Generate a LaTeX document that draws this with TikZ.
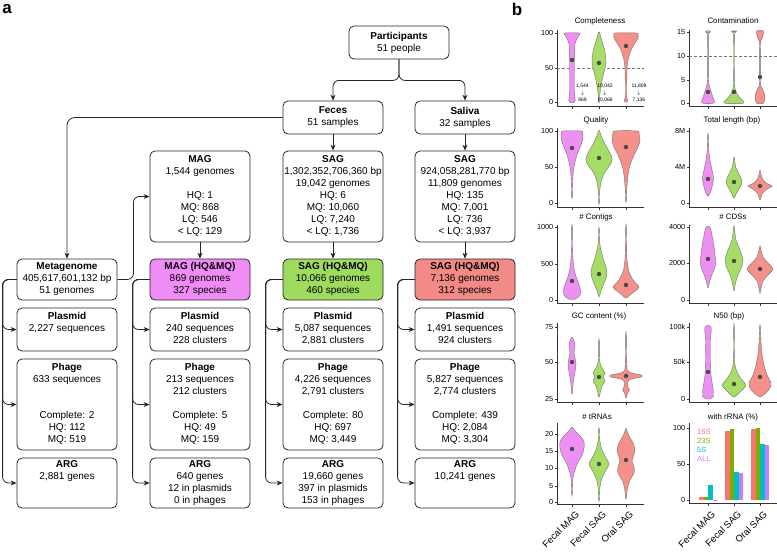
\documentclass[tikz,border=0pt]{standalone}
\usepackage{fontspec}
\setmainfont{Liberation Sans}
\usetikzlibrary{arrows.meta}
\definecolor{cmag}{HTML}{F08CF5}
\definecolor{cgrn}{HTML}{9EDB5E}
\definecolor{cred}{HTML}{F28A86}
\definecolor{vmag}{HTML}{EE90F2}
\definecolor{vgrn}{HTML}{A6DC68}
\definecolor{vred}{HTML}{F5908B}
\definecolor{cS}{HTML}{F8766D}
\definecolor{cT}{HTML}{7CAE00}
\definecolor{cF}{HTML}{00BFC4}
\definecolor{cA}{HTML}{C77CFF}
\definecolor{dotc}{HTML}{4A4A4A}
\tikzset{
  box/.style={draw=black!85, line width=0.8pt, rounded corners=5pt, minimum width=100pt, inner sep=0pt, align=center, font=\fontsize{10}{12}\selectfont},
  conn/.style={draw=black!85, line width=0.8pt, rounded corners=6pt, -{Stealth[length=6pt,width=5pt]}},
  axisline/.style={draw=black!80, line width=0.6pt},
  ticklab/.style={anchor=east, font=\fontsize{7.3}{8}\selectfont, inner sep=0.5pt},
  ptitle/.style={font=\fontsize{7.9}{9}\selectfont, inner sep=0pt},
  xlab/.style={rotate=45, anchor=north east, font=\fontsize{9.5}{10}\selectfont, inner sep=0pt},
  ann/.style={align=center, font=\fontsize{5}{7}\selectfont, inner sep=0pt},
  leg/.style={anchor=west, font=\fontsize{7.5}{8}\selectfont, inner sep=0pt},
  vshape/.style={draw=black!55, line width=0.4pt},
  refdash/.style={draw=black!55, line width=0.5pt, dash pattern=on 3pt off 2pt},
  panellab/.style={font=\fontsize{17}{18}\selectfont\bfseries, inner sep=0pt}
}
\newcommand\violin[4]{%
  \gdef\vR{}\gdef\vL{}%
  \foreach \yy/\ww in {#3}{%
    \pgfmathsetmacro\xl{#1-\ww}%
    \pgfmathsetmacro\xr{#1+\ww}%
    \xdef\vR{\vR(\xr,\yy)}%
    \xdef\vL{(\xl,\yy)\vL}%
  }%
  \edef\vtmp{\noexpand\draw[vshape,fill=#2] plot[smooth cycle,tension=0.55] coordinates {\vR\vL};}%
  \vtmp
  \fill[dotc] (#1,#4) circle (2.2);
}
\newcommand\plotaxes[6]{%
  \draw[axisline] (#1,#2) -- (#1,#3) -- ++(#4,0);
  \foreach \ty/\tl in {#6}{\draw[axisline] (#1,\ty) -- ++(-2.5,0); \node[ticklab] (tk-#1-\ty) at (#1-3,\ty) {\tl};}
  \foreach \tx in {#5}{\draw[axisline] (\tx,#3) -- ++(0,2.5);}
}
\begin{document}
\begin{tikzpicture}[x=1pt,y=-1pt]
\useasboundingbox (0,0) rectangle (777,554);
\node[panellab] (la) at (7,9) {a};
\node[panellab] (lb) at (517,9) {b};

% ---------- panel a ----------
\node[box, minimum height=33pt] (part) at (399,42.5) {\textbf{Participants}\\51 people};
\node[box, minimum height=33pt] (feces) at (333,117.5) {\textbf{Feces}\\51 samples};
\node[box, minimum height=33pt] (saliva) at (465,117.5) {\textbf{Saliva}\\32 samples};

\node[box, minimum height=91pt] (c2q) at (200,196.5) {\strut\textbf{MAG}\\1,544 genomes\\~\\HQ: 1\\MQ: 868\\LQ: 546\\< LQ: 129\strut};
\node[box, minimum height=91pt] (c3q) at (333,196.5) {\strut\textbf{SAG}\\1,302,352,706,360 bp\\19,042 genomes\\HQ: 6\\MQ: 10,060\\LQ: 7,240\\< LQ: 1,736\strut};
\node[box, minimum height=91pt] (c4q) at (465,196.5) {\strut\textbf{SAG}\\924,058,281,770 bp\\11,809 genomes\\HQ: 135\\MQ: 7,001\\LQ: 736\\< LQ: 3,937\strut};

\node[box, minimum height=41pt] (c1hq) at (67,279.5) {\strut\textbf{Metagenome}\\405,617,601,132 bp\\51 genomes\strut};
\node[box, minimum height=41pt, fill=cmag] (c2hq) at (200,279.5) {\strut\textbf{MAG (HQ\&MQ)}\\869 genomes\\327 species\strut};
\node[box, minimum height=41pt, fill=cgrn] (c3hq) at (333,279.5) {\strut\textbf{SAG (HQ\&MQ)}\\10,066 genomes\\460 species\strut};
\node[box, minimum height=41pt, fill=cred] (c4hq) at (465,279.5) {\strut\textbf{SAG (HQ\&MQ)}\\7,136 genomes\\312 species\strut};

\node[box, minimum height=43pt] (c1p) at (67,329.5) {\strut\textbf{Plasmid}\\2,227 sequences\\~\strut};
\node[box, minimum height=43pt] (c2p) at (200,329.5) {\strut\textbf{Plasmid}\\240 sequences\\228 clusters\strut};
\node[box, minimum height=43pt] (c3p) at (333,329.5) {\strut\textbf{Plasmid}\\5,087 sequences\\2,881 clusters\strut};
\node[box, minimum height=43pt] (c4p) at (465,329.5) {\strut\textbf{Plasmid}\\1,491 sequences\\924 clusters\strut};

\node[box, minimum height=91pt] (c1f) at (67,404.5) {\strut\textbf{Phage}\\633 sequences\\~\\~\\Complete: 2\\HQ: 112\\MQ: 519\strut};
\node[box, minimum height=91pt] (c2f) at (200,404.5) {\strut\textbf{Phage}\\213 sequences\\212 clusters\\~\\Complete: 5\\HQ: 49\\MQ: 159\strut};
\node[box, minimum height=91pt] (c3f) at (333,404.5) {\strut\textbf{Phage}\\4,226 sequences\\2,791 clusters\\~\\Complete: 80\\HQ: 697\\MQ: 3,449\strut};
\node[box, minimum height=91pt] (c4f) at (465,404.5) {\strut\textbf{Phage}\\5,827 sequences\\2,774 clusters\\~\\Complete: 439\\HQ: 2,084\\MQ: 3,304\strut};

\node[box, minimum height=50pt] (c1a) at (67,483) {\strut\textbf{ARG}\\2,881 genes\\~\\~\strut};
\node[box, minimum height=50pt] (c2a) at (200,483) {\strut\textbf{ARG}\\640 genes\\12 in plasmids\\0 in phages\strut};
\node[box, minimum height=50pt] (c3a) at (333,483) {\strut\textbf{ARG}\\19,660 genes\\397 in plasmids\\153 in phages\strut};
\node[box, minimum height=50pt] (c4a) at (465,483) {\strut\textbf{ARG}\\10,241 genes\\~\\~\strut};

\draw[conn] (part.south) -- ++(0,21) -| (feces.north);
\draw[conn] (part.south) -- ++(0,21) -| (saliva.north);
\draw[conn, rounded corners=8pt] (feces.west) -| (c1hq.north);
\draw[conn] (feces.south) -- (c3q.north);
\draw[conn] (saliva.south) -- (c4q.north);
\draw[conn] (c1hq.east) -- ++(16,0) |- (c2q.west);
\draw[conn] (c2q.south) -- (c2hq.north);
\draw[conn] (c3q.south) -- (c3hq.north);
\draw[conn] (c4q.south) -- (c4hq.north);
\foreach \c/\d in {1/14,2/17,3/17,4/17}{
  \foreach \t in {p,f,a}{
    \draw[conn] (c\c hq.west) -- ++(-\d,0) |- (c\c\t.west);
  }
}

% ---------- panel b ----------
% row 1
\node[ptitle] (t1) at (600,21) {Completeness};
\node[ptitle] (t2) at (733,21) {Contamination};
\plotaxes{557}{30}{106}{87}{572,599,626}{33/100,68/50,102/0}
\plotaxes{689}{30}{106}{88}{708,734,760}{32/15,56/10,80/5,103/0}
\draw[refdash] (557,68) -- (644,68);
\draw[refdash] (689,56) -- (777,56);
\violin{572}{vmag}{33/7,35/7,38/5.5,42/3.5,48/2.7,70/2.5,90/2.5,97/2.8,100.5/3.3,102.5/2}{60}
\violin{599}{vgrn}{32/0.5,38/2,46/4.5,55/6.5,62/7,68/6,76/4,85/2,95/0.8,102/0.4}{63}
\violin{626}{vred}{33/10,34.5/12,38/12,43/9,50/5,58/2.5,66/1.2,80/0.8,97/0.8,100/1.8,102/1.2}{46}
\violin{708}{vmag}{31/2.5,33/1.5,36/0.4,75/0.4,84/1,90/2.5,96/4.5,100/6,102.5/6.5,103.5/4}{92}
\violin{734}{vgrn}{31/2.5,32.5/1.5,35/0.4,80/0.4,90/1.5,96/4.5,100/8,102/10,103.5/8}{92}
\violin{760}{vred}{31/3.5,35/3,40/1.5,45/0.5,82/0.5,88/2,94/4.5,98/5,101/4.5,103.5/3}{77}
\node[ann] (n1) at (582.5,93) {1,544\\$\downarrow$\\869};
\node[ann] (n2) at (605,93) {19,042\\$\downarrow$\\10,066};
\node[ann] (n3) at (639,93) {11,809\\$\downarrow$\\7,136};

% row 2
\node[ptitle] (t3) at (596,120) {Quality};
\node[ptitle] (t4) at (732,120) {Total length (bp)};
\plotaxes{557}{128}{207}{87}{572,599,626}{131/100,167/50,203/0}
\plotaxes{689}{128}{207}{88}{708,734,760}{131/8M,167/4M,203/0}
\violin{572}{vmag}{131/9,133/10.5,138/11,145/9,152/6,160/3.5,170/1.5,185/0.6,197/0.3}{148}
\violin{599}{vgrn}{131/0.5,138/3,146/7,155/12,160/13,165/11,172/6,180/2.5,190/0.8,203/0.3}{158}
\violin{626}{vred}{131/11,134/13,140/14,147/12,155/8,165/4,175/2,190/0.7,201/0.3}{147}
\violin{708}{vmag}{135/0.3,150/0.8,160/2,170/4,178/5.5,185/4.5,192/2.5,196/0.5}{179}
\violin{734}{vgrn}{158/0.3,168/2,176/6,182/8,187/6,193/2.5,198/0.4}{182}
\violin{760}{vred}{171/0.3,178/2,183/6,186/12,189/7,194/2,200/0.3}{186}

% row 3
\node[ptitle] (t5) at (596,217) {\# Contigs};
\node[ptitle] (t6) at (733,217) {\# CDSs};
\plotaxes{557}{225}{303}{87}{572,599,626}{227/1000,264/500,300/0}
\plotaxes{689}{225}{303}{88}{708,734,760}{227/4000,263/2000,300/0}
\violin{572}{vmag}{227/0.3,250/0.6,265/1.5,275/3.5,283/6.5,290/8.5,295/8,298/5,299.5/2}{281}
\violin{599}{vgrn}{229/0.3,245/1,258/4,267/7,274/8,281/6,288/3,296/0.4}{274}
\violin{626}{vred}{227/0.3,255/0.8,270/2.5,280/7,287/13,291/9,295/4,298/0.5}{285}
\violin{708}{vmag}{227/2,233/3.5,243/5.5,255/7,265/7.5,272/5,280/2,287/0.4}{259}
\violin{734}{vgrn}{227/0.3,240/2,250/6,260/9,266/8,275/4,283/1.5,290/0.3}{261}
\violin{760}{vred}{247/0.3,257/3,264/9,269/13,274/9,281/3,292/0.3}{269}

% row 4
\node[ptitle] (t7) at (599,316) {GC content (\%)};
\node[ptitle] (t8) at (729,316) {N50 (bp)};
\plotaxes{557}{323}{402}{87}{572,599,626}{327/75,362/50,399/25}
\plotaxes{689}{323}{402}{88}{708,734,760}{327/100k,362/50k,399/0}
\violin{572}{vmag}{337/0.3,341/2,346/3,352/2,358/3,364/4,372/3,380/1.5,393/0.3}{362}
\violin{599}{vgrn}{341/0.3,360/0.6,368/3,373/6,377/4,381/6,386/3,391/1.5,397/0.3}{377}
\violin{626}{vred}{335/0.3,365/0.8,372/3,375/15,377/15,380/3,387/2,390/3.5,393/1.5,398/0.3}{376}
\violin{708}{vmag}{327/3,340/2.5,360/2.5,375/3,385/4.5,393/5.5,397/5,399/2}{372}
\violin{734}{vgrn}{327/0.3,360/0.5,372/3,380/8,385/12,389/9,394/4,397/0.5}{384}
\violin{760}{vred}{327/0.3,350/1.5,365/4,375/7,383/11,388/10,393/6,397/0.5}{377}

% row 5
\node[ptitle] (t9) at (597,417) {\# tRNAs};
\node[ptitle] (t10) at (733,417) {with rRNA (\%)};
\plotaxes{557}{423}{504}{87}{572,599,626}{434/20,451/15,468/10,486/5,502/0}
\plotaxes{689}{423}{503}{88}{708,734,760}{428/100,464/50,500/0}
\violin{572}{vmag}{427/0.3,432/4,437/9,442/12,448/12,455/10,462/6,470/3,478/1,494/0.3}{449}
\violin{599}{vgrn}{429/0.3,440/0.8,450/3,458/7,464/10,470/7,478/3,487/1,500/0.3}{464}
\violin{626}{vred}{429/0.3,436/3,443/7,450/9,456/7.5,461/6,467/8,473/8,480/4,488/1.5,498/0.3}{460}
% bars
\foreach \gx/\va/\vb/\vc/\vd in {708/4.6/4/21/0.6, 734/96/98.5/39/37.5, 760/99/100/78/76}{
  \fill[cS] (\gx-9,500) rectangle (\gx-4.5,500-0.72*\va);
  \fill[cT] (\gx-4.5,500) rectangle (\gx,500-0.72*\vb);
  \fill[cF] (\gx,500) rectangle (\gx+4.5,500-0.72*\vc);
  \fill[cA] (\gx+4.5,500) rectangle (\gx+9,500-0.72*\vd);
}
\node[leg, text=cS] (g1) at (697,432) {16S};
\node[leg, text=cT] (g2) at (697,441) {23S};
\node[leg, text=cF] (g3) at (697,450) {5S};
\node[leg, text=cA] (g4) at (697,459) {ALL};
% x labels
\foreach \tx/\tl [count=\i] in {572/Fecal MAG,599/Fecal SAG,626/Oral SAG,708/Fecal MAG,734/Fecal SAG,760/Oral SAG}{
  \node[xlab] (xl\i) at (\tx+3,510) {\tl};
}
\end{tikzpicture}
\end{document}
